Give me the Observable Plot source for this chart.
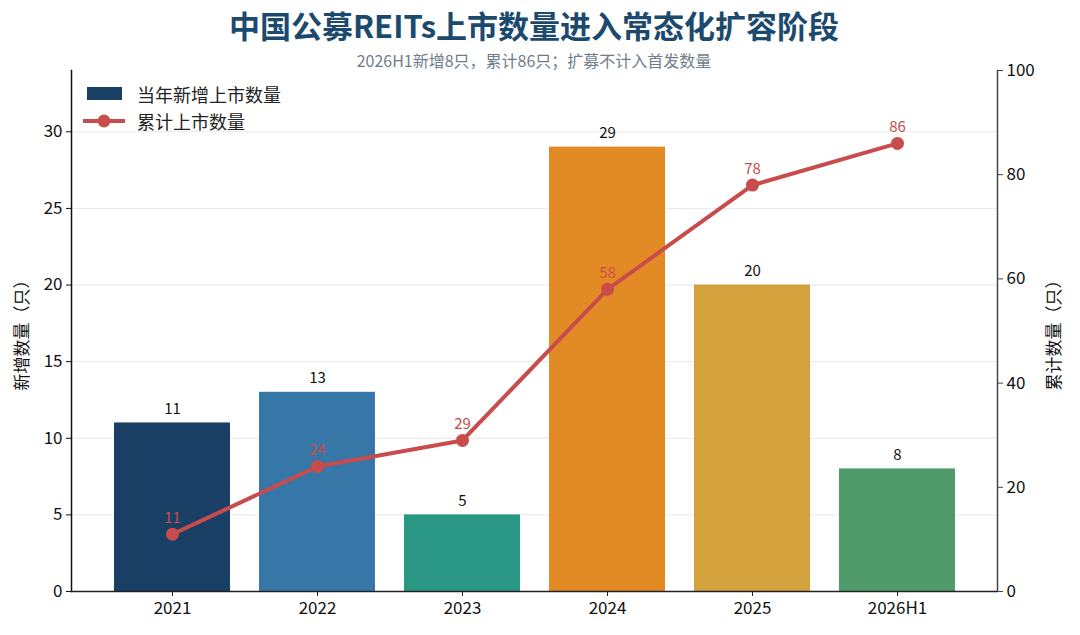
<!DOCTYPE html>
<html><head><meta charset="utf-8">
<script src="https://cdn.jsdelivr.net/npm/d3@7"></script>
<script src="https://cdn.jsdelivr.net/npm/@observablehq/plot@0.6"></script>
<style>
body{margin:0;background:#fff;font-family:"Noto Sans CJK SC","Noto Sans",sans-serif;}
#wrap{position:relative;width:1080px;height:635px;overflow:hidden;background:#fff}
#title{position:absolute;left:0;top:2px;width:1068px;height:46px;line-height:46px;text-align:center;font-size:31px;font-weight:700;color:#1b4a6e;white-space:nowrap}
#sub{position:absolute;left:0;top:48px;width:1068px;height:24px;line-height:24px;text-align:center;font-size:16px;color:#6f7d8a;white-space:nowrap}
#chart{position:absolute;left:0;top:62px}
#legend{position:absolute;left:82px;top:80px;font-size:18px;color:#222}
.row{display:flex;align-items:center;height:27px}
.row svg{margin-right:11px}
</style></head>
<body>
<div id="wrap">
  <div id="chart"></div>
  <div id="title">中国公募REITs上市数量进入常态化扩容阶段</div>
  <div id="sub">2026H1新增8只，累计86只；扩募不计入首发数量</div>
  <div id="legend"></div>
</div>
<script>
const categories = ["2021", "2022", "2023", "2024", "2025", "2026H1"];
const newListings = [11, 13, 5, 29, 20, 8];
const cumulative = [11, 24, 29, 58, 78, 86];
const barColors = ["#1a3f64", "#3677a8", "#2a9784", "#e28b25", "#d4a23c", "#4f9b6a"];
const lineColor = "#c94c4c";
const leftTicks = [0, 5, 10, 15, 20, 25, 30];
const rightTicks = [0, 20, 40, 60, 80, 100];
const leftMax = 34, rightMax = 100;
const seriesNames = ["当年新增上市数量", "累计上市数量"];

const k = leftMax / rightMax;
const data = categories.map((c, i) => ({cat: c, n: newListings[i], cum: cumulative[i], color: barColors[i]}));

const chart = Plot.plot({
  width: 1080,
  height: 573,
  marginLeft: 71,
  marginRight: 83,
  marginTop: 8,
  marginBottom: 44,
  style: {fontFamily: '"Noto Sans CJK SC","Noto Sans",sans-serif', fontSize: "16px", color: "#111", background: "transparent", overflow: "visible"},
  x: {domain: categories, paddingInner: 0.2, paddingOuter: 0.29, label: null},
  y: {domain: [0, leftMax], label: null},
  color: {type: "identity"},
  marks: [
    Plot.gridY(leftTicks.filter(d => d > 0), {stroke: "#e8e8e8", strokeOpacity: 1, strokeWidth: 1}),
    Plot.barY(data, {x: "cat", y: "n", fill: "color"}),
    Plot.text(data, {x: "cat", y: "n", text: d => String(d.n), dy: -14, fontSize: 15, fill: "#111"}),
    Plot.line(data, {x: "cat", y: d => d.cum * k, stroke: lineColor, strokeWidth: 4}),
    Plot.dot(data, {x: "cat", y: d => d.cum * k, r: 6.5, fill: lineColor, stroke: "none"}),
    Plot.text(data, {x: "cat", y: d => d.cum * k, text: d => String(d.cum), dy: -16, fontSize: 15, fill: lineColor}),
    Plot.axisX({tickSize: 5, tickPadding: 5, fontSize: 17, label: null, stroke: "#222"}),
    Plot.axisY({anchor: "left", ticks: leftTicks, tickSize: 5, tickPadding: 4, fontSize: 17,
      label: "新增数量（只）", labelAnchor: "center", labelArrow: "none", labelOffset: 56, stroke: "#111"}),
    Plot.axisY(rightTicks.map(v => v * k), {anchor: "right", tickSize: 5, tickPadding: 4, fontSize: 17,
      tickFormat: v => String(Math.round(v / k)), stroke: "#444",
      label: "累计数量（只）", labelAnchor: "center", labelArrow: "none", labelOffset: 62}),
    Plot.frame({anchor: "left", stroke: "#111", strokeWidth: 1.5}),
    Plot.frame({anchor: "right", stroke: "#444", strokeWidth: 1.5}),
    Plot.ruleY([0], {stroke: "#222", strokeWidth: 1.5})
  ]
});
chart.querySelectorAll("g[aria-label='y-axis label'] text, g[aria-label='y-axis label']").forEach(e => e.setAttribute("font-size", "17"));
document.getElementById("chart").appendChild(chart);

const legend = document.getElementById("legend");
legend.innerHTML = `
  <div class="row"><svg width="44" height="14"><rect x="5" y="0" width="35" height="13" fill="${barColors[0]}"></rect></svg><span>${seriesNames[0]}</span></div>
  <div class="row"><svg width="44" height="14"><line x1="1" x2="43" y1="7" y2="7" stroke="${lineColor}" stroke-width="4"></line><circle cx="22" cy="7" r="6.5" fill="${lineColor}"></circle></svg><span>${seriesNames[1]}</span></div>`;
</script>
</body></html>
